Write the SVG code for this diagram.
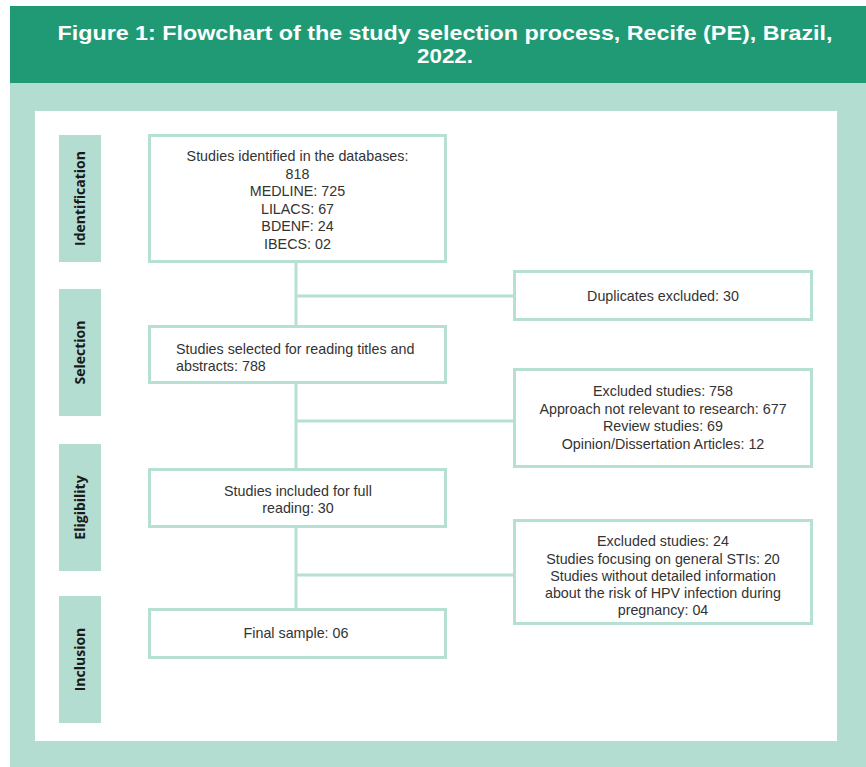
<svg xmlns="http://www.w3.org/2000/svg" width="866" height="767" viewBox="0 0 866 767">
  <style>
    .node { fill: #ffffff; stroke: #b5e0d3; stroke-width: 3; }
    .phase { fill: #b3ddd1; }
    .phase-text { font-family: "Open Sans", "Liberation Sans", sans-serif; font-weight: 700; font-size: 14px; fill: #1a1a1a; text-anchor: middle; }
    .txt { font-family: "Liberation Sans", Arial, sans-serif; font-size: 14.3px; fill: #333333; text-anchor: middle; }
    .txt-left { font-family: "Liberation Sans", Arial, sans-serif; font-size: 14.3px; fill: #333333; }
    .title { font-family: "Liberation Sans", Arial, sans-serif; font-weight: 700; font-size: 20px; fill: #ffffff; text-anchor: middle; }
    .link { stroke: #b5e0d3; stroke-width: 3; fill: none; }
  </style>

  <rect x="0" y="0" width="866" height="767" fill="#ffffff"/>

  <!-- heading band -->
  <g id="header">
    <rect x="10" y="6" width="856" height="77" fill="#209a74"/>
    <text class="title" x="445" y="40" textLength="775" lengthAdjust="spacingAndGlyphs">Figure 1: Flowchart of the study selection process, Recife (PE), Brazil,</text>
    <text class="title" x="445" y="63" textLength="56" lengthAdjust="spacingAndGlyphs">2022.</text>
  </g>

  <!-- panel frame -->
  <rect x="10" y="83" width="856" height="684" fill="#b3ddd1"/>
  <rect x="35" y="111" width="802" height="630" fill="#ffffff"/>

  <!-- phase labels -->
  <g id="phase-identification">
    <rect class="phase" x="59" y="135" width="42" height="127"/>
    <text class="phase-text" transform="translate(85,198.5) rotate(-90)">Identification</text>
  </g>
  <g id="phase-selection">
    <rect class="phase" x="59" y="289" width="42" height="127"/>
    <text class="phase-text" transform="translate(85,352.5) rotate(-90)">Selection</text>
  </g>
  <g id="phase-eligibility">
    <rect class="phase" x="59" y="444" width="42" height="127"/>
    <text class="phase-text" transform="translate(85,507.5) rotate(-90)">Eligibility</text>
  </g>
  <g id="phase-inclusion">
    <rect class="phase" x="59" y="596" width="42" height="127"/>
    <text class="phase-text" transform="translate(85,659.5) rotate(-90)">Inclusion</text>
  </g>

  <!-- connectors -->
  <g id="connectors">
    <line class="link" x1="296" y1="263" x2="296" y2="325"/>
    <line class="link" x1="296" y1="384" x2="296" y2="468"/>
    <line class="link" x1="296" y1="528" x2="296" y2="608"/>
    <line class="link" x1="296" y1="296" x2="514" y2="296"/>
    <line class="link" x1="296" y1="421" x2="514" y2="421"/>
    <line class="link" x1="296" y1="575" x2="514" y2="575"/>
  </g>

  <!-- main flow -->
  <g id="identified">
    <rect class="node" x="149.5" y="135.5" width="296" height="126"/>
    <text class="txt" x="297.5" y="161">Studies identified in the databases:</text>
    <text class="txt" x="297.5" y="178.5">818</text>
    <text class="txt" x="297.5" y="196">MEDLINE: 725</text>
    <text class="txt" x="297.5" y="213.5">LILACS: 67</text>
    <text class="txt" x="297.5" y="231">BDENF: 24</text>
    <text class="txt" x="297.5" y="248.5">IBECS: 02</text>
  </g>

  <g id="selected">
    <rect class="node" x="149.5" y="326.5" width="296" height="56"/>
    <text class="txt-left" x="176" y="354">Studies selected for reading titles and</text>
    <text class="txt-left" x="176" y="371">abstracts: 788</text>
  </g>

  <g id="included">
    <rect class="node" x="149.5" y="469.5" width="296" height="57"/>
    <text class="txt" x="298" y="496">Studies included for full</text>
    <text class="txt" x="298" y="513">reading: 30</text>
  </g>

  <g id="final">
    <rect class="node" x="149.5" y="609.5" width="296" height="48"/>
    <text class="txt" x="296" y="638">Final sample: 06</text>
  </g>

  <!-- exclusion boxes -->
  <g id="duplicates">
    <rect class="node" x="514.5" y="271.5" width="297" height="48"/>
    <text class="txt" x="663" y="301">Duplicates excluded: 30</text>
  </g>

  <g id="excluded-screening">
    <rect class="node" x="514.5" y="369.5" width="297" height="97"/>
    <text class="txt" x="663" y="396">Excluded studies: 758</text>
    <text class="txt" x="663" y="413.5">Approach not relevant to research: 677</text>
    <text class="txt" x="663" y="431">Review studies: 69</text>
    <text class="txt" x="663" y="448.5">Opinion/Dissertation Articles: 12</text>
  </g>

  <g id="excluded-full-text">
    <rect class="node" x="514.5" y="520.5" width="297" height="103"/>
    <text class="txt" x="663" y="546">Excluded studies: 24</text>
    <text class="txt" x="663" y="563.5">Studies focusing on general STIs: 20</text>
    <text class="txt" x="663" y="580.5">Studies without detailed information</text>
    <text class="txt" x="663" y="598">about the risk of HPV infection during</text>
    <text class="txt" x="663" y="615">pregnancy: 04</text>
  </g>
</svg>
